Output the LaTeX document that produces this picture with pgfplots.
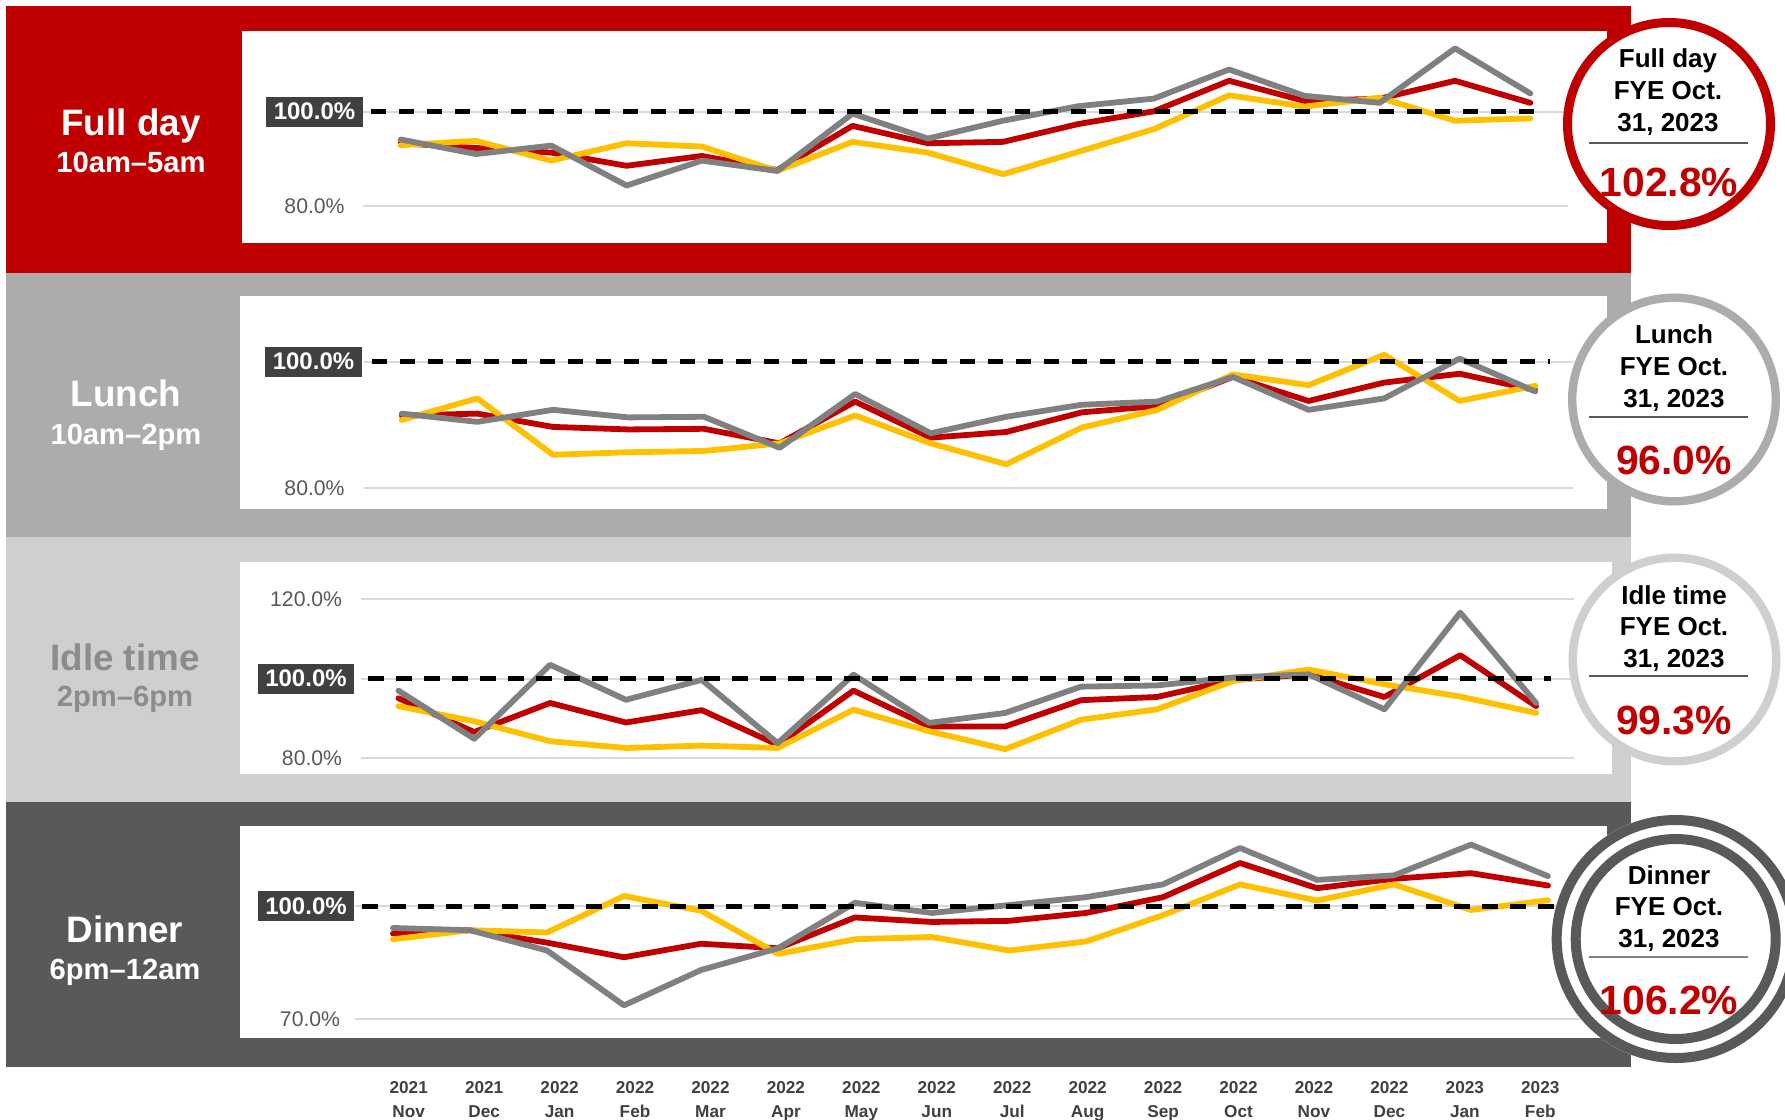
\documentclass[border=0pt]{standalone}
\usepackage{pgfplots}
\pgfplotsset{compat=1.18}
\usepackage{pgfplotstable}
\usepackage{fontspec}
\setmainfont{Liberation Sans}
\newcommand{\ft}[1]{\fontsize{#1}{#1}\selectfont}
\definecolor{cred}{HTML}{C00000}
\definecolor{cyel}{HTML}{FFC000}
\definecolor{cgray}{HTML}{808080}
\definecolor{bandA}{HTML}{C00000}
\definecolor{bandB}{HTML}{AEABAB}
\definecolor{bandC}{HTML}{D0CECE}
\definecolor{bandD}{HTML}{595959}
\definecolor{boxgray}{HTML}{404040}
\definecolor{gridc}{HTML}{D9D9D9}
\definecolor{ticktext}{HTML}{595959}
\definecolor{idletext}{HTML}{8C8C8C}
\definecolor{xlab}{HTML}{404040}
\definecolor{rulec}{HTML}{595959}
\newcommand{\gap}[1]{\rule{#1}{0pt}}
\newcommand{\hundred}[1]{{\setlength{\fboxsep}{0pt}\colorbox{boxgray}{\rule[-3.4pt]{0pt}{15pt}\gap{3.7pt}\color{white}\bfseries\ft{12}100.0\%\gap{3.7pt}}\gap{#1}}}

\pgfplotstableread{
x r y g
0 93.3 92.9 94.1
1 92.3 93.8 91.0
2 91.3 89.6 92.8
3 88.5 93.3 84.3
4 90.6 92.6 89.6
5 87.6 87.4 87.4
6 97.0 93.6 99.6
7 93.3 91.3 94.3
8 93.6 86.7 98.1
9 97.4 91.5 101.2
10 100.1 96.3 102.8
11 106.6 103.5 109.0
12 102.3 101.1 103.4
13 102.8 103.0 101.9
14 106.6 98.1 113.5
15 101.9 98.6 103.9
}\tabA
\pgfplotstableread{
x r y g
0 91.5 90.8 91.8
1 91.8 94.2 90.5
2 89.7 85.3 92.4
3 89.3 85.7 91.2
4 89.4 85.9 91.3
5 87.1 87.1 86.4
6 93.7 91.5 94.9
7 88.0 87.1 88.7
8 88.9 83.8 91.3
9 92.0 89.6 93.2
10 93.0 92.4 93.7
11 97.6 98.0 97.6
12 93.8 96.3 92.4
13 96.7 101.1 94.2
14 98.1 93.8 100.5
15 95.5 96.2 95.3
}\tabB
\pgfplotstableread{
x r y g
0 95.1 93.1 97.0
1 86.6 89.3 84.9
2 93.9 84.3 103.5
3 89.0 82.6 94.7
4 92.1 83.2 99.7
5 83.4 82.6 83.8
6 97.0 92.2 101.0
7 88.0 86.8 88.9
8 88.0 82.3 91.4
9 94.6 89.7 98.0
10 95.4 92.3 98.3
11 99.7 99.4 100.3
12 101.1 102.3 101.1
13 95.4 98.6 92.3
14 105.9 95.5 116.6
15 93.1 91.4 93.9
}\tabC
\pgfplotstableread{
x r y g
0 92.7 91.2 94.2
1 93.6 93.6 93.6
2 90.3 93.0 88.2
3 86.4 102.7 73.6
4 90.0 98.8 83.0
5 88.8 87.3 88.8
6 97.0 91.2 100.9
7 95.8 91.8 98.2
8 96.1 88.2 100.3
9 98.2 90.6 102.4
10 102.4 97.6 105.8
11 111.5 105.8 115.5
12 104.8 101.5 107.0
13 107.3 105.8 108.2
14 108.8 99.0 116.4
15 105.5 101.6 108.0
}\tabD

\pgfplotsset{
  panel/.style={
    scale only axis, clip=false, anchor=north west,
    xmin=-0.5, xmax=15.5,
    axis line style={draw=none},
    major tick length=0pt,
    xtick=\empty,
    ymajorgrids,
    grid style={gridc, line width=0.85pt},
    yticklabel style={anchor=east, inner sep=0pt, font=\ft{10.6}, text=ticktext},
    extra y ticks={100},
    extra y tick style={grid=major},
  },
  ser/.style={line width=2.9pt, line join=round, line cap=round},
  dashline/.style={black, line width=2.5pt, dash pattern=on 7.8pt off 6.2pt},
}

\begin{document}
\begin{tikzpicture}[x=0.5pt,y=-0.5pt]
\path[use as bounding box, fill=white] (0,0) rectangle (1785,1120);
% bands
\fill[bandA] (6,6) rectangle (1631,273);
\fill[bandB] (6,273) rectangle (1631,537);
\fill[bandC] (6,537) rectangle (1631,802);
\fill[bandD] (6,802) rectangle (1631,1067);
% white plot areas
\fill[white] (242,31) rectangle (1607,243);
\fill[white] (240,296) rectangle (1607,509);
\fill[white] (240,562) rectangle (1612,774);
\fill[white] (240,826) rectangle (1607,1038);
% left labels
\node[anchor=base, text=white, font=\bfseries\ft{18.4}] at (131,135) {Full day};
\node[anchor=base, text=white, font=\bfseries\ft{14.6}] at (131,172) {10am–5am};
\node[anchor=base, text=white, font=\bfseries\ft{18.4}] at (126,406) {Lunch};
\node[anchor=base, text=white, font=\bfseries\ft{14.6}] at (126,444) {10am–2pm};
\node[anchor=base, text=idletext, font=\bfseries\ft{18.4}] at (125,670) {Idle time};
\node[anchor=base, text=idletext, font=\bfseries\ft{14.6}] at (125,706) {2pm–6pm};
\node[anchor=base, text=white, font=\bfseries\ft{18.4}] at (125,942) {Dinner};
\node[anchor=base, text=white, font=\bfseries\ft{14.6}] at (125,979) {6pm–12am};

% Panel 1
\begin{axis}[panel, at={(181.5pt,-15.5pt)}, width=602.5pt, height=106pt,
  ymin=72.06, ymax=117.2, ytick={80}, yticklabels={80.0\%\gap{9pt}},
  extra y tick labels={\hundred{0pt}}]
\addplot[ser, cred] table[x=x,y=r]{\tabA};
\addplot[ser, cyel] table[x=x,y=y]{\tabA};
\addplot[ser, cgray] table[x=x,y=g]{\tabA};
\addplot[dashline] coordinates {(-0.4,100) (15.2,100)};
\end{axis}
% Panel 2
\begin{axis}[panel, at={(182pt,-148pt)}, width=604.5pt, height=106.5pt,
  ymin=76.73, ymax=110.38, ytick={80}, yticklabels={80.0\%\gap{9.5pt}},
  extra y tick labels={\hundred{1pt}}]
\addplot[ser, cred] table[x=x,y=r]{\tabB};
\addplot[ser, cyel] table[x=x,y=y]{\tabB};
\addplot[ser, cgray] table[x=x,y=g]{\tabB};
\addplot[dashline] coordinates {(-0.4,100) (15.2,100)};
\end{axis}
% Panel 3
\begin{axis}[panel, at={(180.25pt,-281pt)}, width=606.75pt, height=106pt,
  ymin=76.06, ymax=129.3, ytick={80,120}, yticklabels={80.0\%\gap{9pt},120.0\%\gap{9pt}},
  extra y tick labels={\hundred{3pt}}]
\addplot[ser, cred] table[x=x,y=r]{\tabC};
\addplot[ser, cyel] table[x=x,y=y]{\tabC};
\addplot[ser, cgray] table[x=x,y=g]{\tabC};
\addplot[dashline] coordinates {(-0.4,100) (15.2,100)};
\end{axis}
% Panel 4
\begin{axis}[panel, at={(177.25pt,-413pt)}, width=616pt, height=106pt,
  ymin=64.9, ymax=121.35, ytick={70}, yticklabels={70.0\%\gap{7pt}},
  extra y tick labels={\hundred{0pt}}]
\addplot[ser, cred] table[x=x,y=r]{\tabD};
\addplot[ser, cyel] table[x=x,y=y]{\tabD};
\addplot[ser, cgray] table[x=x,y=g]{\tabD};
\addplot[dashline] coordinates {(-0.4,100) (15.2,100)};
\end{axis}
% x labels
\begin{axis}[scale only axis, anchor=south west, at={(185.5pt,-540.5pt)}, width=603.5pt, height=1pt,
  xmin=-0.5, xmax=15.5, ymin=0, ymax=1, axis line style={draw=none}, major tick length=0pt,
  ytick=\empty, xtick={0,...,15},
  xticklabels={{2021\\Nov},{2021\\Dec},{2022\\Jan},{2022\\Feb},{2022\\Mar},{2022\\Apr},{2022\\May},{2022\\Jun},{2022\\Jul},{2022\\Aug},{2022\\Sep},{2022\\Oct},{2022\\Nov},{2022\\Dec},{2023\\Jan},{2023\\Feb}},
  xticklabel style={anchor=north, inner sep=0pt, align=center, font=\bfseries\fontsize{8.6}{11.8}\selectfont, text=xlab}]
\end{axis}

% circles
\draw[cred, line width=4.5pt, fill=white] (1669,124) circle[radius=50.75pt];
\node[anchor=base, font=\bfseries\ft{13}] at (1668,67) {Full day};
\node[anchor=base, font=\bfseries\ft{13}] at (1668,99) {FYE Oct.};
\node[anchor=base, font=\bfseries\ft{13}] at (1668,131) {31, 2023};
\draw[rulec, line width=0.6pt] (1589,143) -- (1748,143);
\node[anchor=base, text=cred, font=\bfseries\ft{20.4}] at (1669,196.6) {102.8\%};

\draw[bandB, line width=4.2pt, fill=white] (1674,399.5) circle[radius=50.9pt];
\node[anchor=base, font=\bfseries\ft{13}] at (1674,343) {Lunch};
\node[anchor=base, font=\bfseries\ft{13}] at (1674,375) {FYE Oct.};
\node[anchor=base, font=\bfseries\ft{13}] at (1674,407) {31, 2023};
\draw[rulec, line width=0.6pt] (1589,417) -- (1748,417);
\node[anchor=base, text=cred, font=\bfseries\ft{20.4}] at (1674,474.6) {96.0\%};

\draw[bandC, line width=4.2pt, fill=white] (1674.5,659.5) circle[radius=50.9pt];
\node[anchor=base, font=\bfseries\ft{13}] at (1674,604) {Idle time};
\node[anchor=base, font=\bfseries\ft{13}] at (1674,635) {FYE Oct.};
\node[anchor=base, font=\bfseries\ft{13}] at (1674,667) {31, 2023};
\draw[rulec, line width=0.6pt] (1589,676) -- (1748,676);
\node[anchor=base, text=cred, font=\bfseries\ft{20.4}] at (1674,734.6) {99.3\%};

\fill[white] (1675.7,939) circle[radius=62pt];
\draw[bandD, line width=5pt] (1675.7,939) circle[radius=59.5pt];
\draw[bandD, line width=5pt] (1675.7,939) circle[radius=50pt];
\node[anchor=base, font=\bfseries\ft{13}] at (1669,884) {Dinner};
\node[anchor=base, font=\bfseries\ft{13}] at (1669,915) {FYE Oct.};
\node[anchor=base, font=\bfseries\ft{13}] at (1669,947) {31, 2023};
\draw[gray, line width=0.6pt] (1589,957) -- (1748,957);
\node[anchor=base, text=cred, font=\bfseries\ft{20.4}] at (1669,1014.6) {106.2\%};
\end{tikzpicture}
\end{document}
